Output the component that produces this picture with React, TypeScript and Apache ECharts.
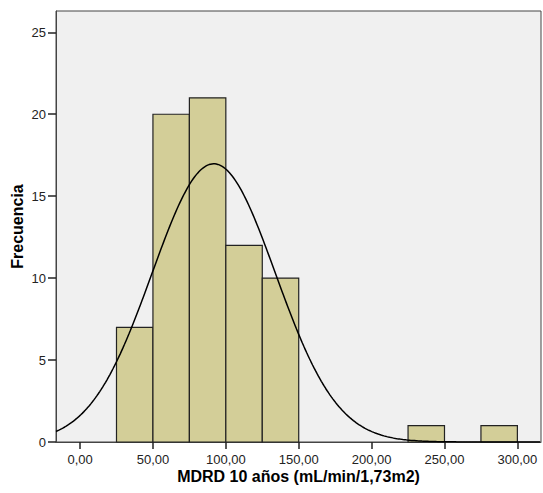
import React, { useEffect, useRef } from "react";
import * as echarts from "echarts";

// Histogram bins (lower edge, upper edge) and frequencies
const binStarts = [25, 50, 75, 100, 125, 225, 275];
const binEnds = [50, 75, 100, 125, 150, 250, 300];
const frequencies = [7, 20, 21, 12, 10, 1, 1];

// Tick values
const xTicks = [0, 50, 100, 150, 200, 250, 300];
const yTicks = [0, 5, 10, 15, 20, 25];

// Normal curve parameters (as fitted by the chart)
const curveMean = 91.7;
const curveSd = 42.3;
const sampleN = 72;
const binWidth = 25;

const X_MIN = -16.5;
const X_MAX = 316.2;
const Y_MAX = 26.3;

export default function App() {
  const ref = useRef<HTMLDivElement>(null);
  useEffect(() => {
    if (!ref.current) return;
    const chart = echarts.init(ref.current, null, { renderer: "svg" });
    const bars = binStarts.map((s, i) => [s, binEnds[i], frequencies[i]]);
    const curve: number[][] = [];
    for (let x = X_MIN; x <= X_MAX; x += 1) {
      const z = (x - curveMean) / curveSd;
      const y = (sampleN * binWidth) / (curveSd * Math.sqrt(2 * Math.PI)) * Math.exp(-0.5 * z * z);
      curve.push([x, y]);
    }
    const font = "'Liberation Sans', Arial, sans-serif";
    chart.setOption({
      animation: false,
      backgroundColor: "#ffffff",
      textStyle: { fontFamily: font },
      grid: {
        left: 56,
        top: 11,
        right: 2,
        bottom: 51,
        containLabel: false,
        outerBoundsMode: "none",
        show: true,
        backgroundColor: "#F0F0F0",
        borderColor: "#444444",
        borderWidth: 1,
      },
      xAxis: {
        type: "value",
        min: X_MIN,
        max: X_MAX,
        name: "MDRD 10 años (mL/min/1,73m2)",
        nameLocation: "middle",
        nameGap: 26,
        nameMoveOverlap: false,
        nameTextStyle: { fontSize: 16, fontWeight: "bold", color: "#000", fontFamily: font },
        axisLine: { show: true, onZero: false, lineStyle: { color: "#444", width: 1 } },
        axisTick: { show: true, customValues: xTicks, length: 7, inside: false, lineStyle: { color: "#222", width: 1.5 } },
        axisLabel: {
          show: true,
          customValues: xTicks,
          formatter: (v: number) => v.toFixed(2).replace(".", ","),
          fontSize: 13,
          color: "#222",
          margin: 11,
          fontFamily: font,
        },
        splitLine: { show: false },
      },
      yAxis: {
        type: "value",
        min: 0,
        max: Y_MAX,
        name: "Frecuencia",
        nameLocation: "middle",
        nameGap: 31,
        nameMoveOverlap: false,
        nameRotate: 90,
        nameTextStyle: { fontSize: 16, fontWeight: "bold", color: "#000", fontFamily: font },
        axisLine: { show: true, onZero: false, lineStyle: { color: "#444", width: 1 } },
        axisTick: { show: true, customValues: yTicks, length: 8, lineStyle: { color: "#222", width: 1.5 } },
        axisLabel: {
          show: true,
          customValues: yTicks,
          formatter: (v: number) => String(Math.round(v)),
          fontSize: 13,
          color: "#222",
          margin: 10,
          fontFamily: font,
        },
        splitLine: { show: false },
      },
      series: [
        {
          type: "custom",
          data: bars,
          renderItem: (params: any, api: any) => {
            const p0 = api.coord([api.value(0), api.value(2)]);
            const p1 = api.coord([api.value(1), 0]);
            return {
              type: "rect",
              shape: { x: p0[0], y: p0[1], width: p1[0] - p0[0], height: p1[1] - p0[1] },
              style: { fill: "#D3CE98", stroke: "#222222", lineWidth: 1.2 },
            };
          },
          encode: { x: [0, 1], y: 2 },
          z: 2,
        },
        {
          type: "line",
          data: curve,
          showSymbol: false,
          symbol: "none",
          smooth: false,
          lineStyle: { color: "#000", width: 1.5 },
          z: 3,
          silent: true,
        },
      ],
    });
    return () => chart.dispose();
  }, []);
  return <div ref={ref} style={{ width: 543, height: 493, position: "absolute", left: 0, top: 0 }} />;
}
